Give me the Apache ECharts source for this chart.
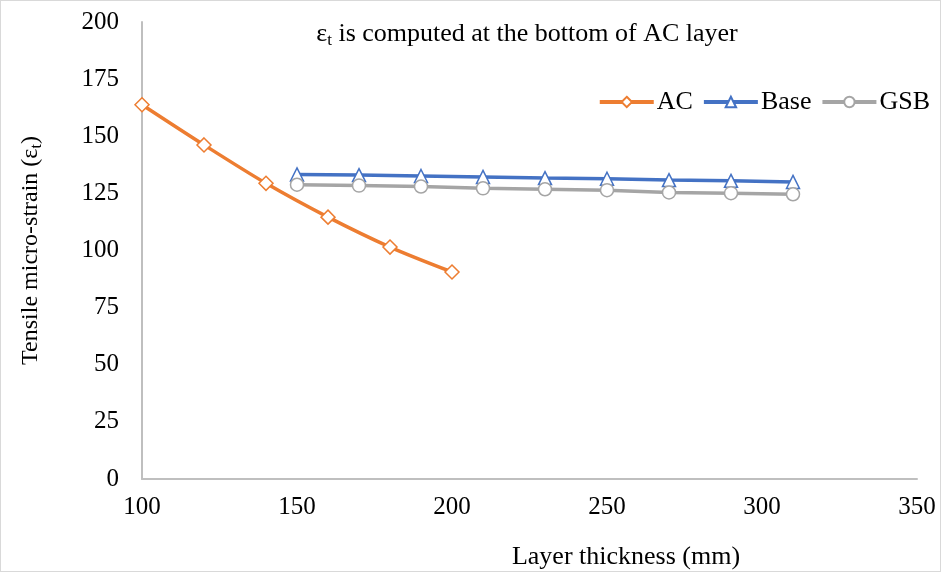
<!DOCTYPE html>
<html>
<head>
<meta charset="utf-8">
<script src="https://cdn.jsdelivr.net/npm/echarts@6/dist/echarts.min.js"></script>
<style>
  html, body { margin: 0; padding: 0; background: #fff; }
  #chart { width: 939px; height: 570px; border: 1px solid #d9d9d9; }
</style>
</head>
<body>
<div id="chart"></div>
<script>
var xTicks = [100, 150, 200, 250, 300, 350];
var yTicks = [0, 25, 50, 75, 100, 125, 150, 175, 200];

var acX = [100, 120, 140, 160, 180, 200];
var acY = [163.8, 146.2, 129.4, 114.6, 101.5, 90.6];

var baseX = [150, 170, 190, 210, 230, 250, 270, 290, 310];
var baseY = [133.3, 133.0, 132.6, 132.2, 131.7, 131.4, 130.8, 130.5, 130.0];

var gsbX = [150, 170, 190, 210, 230, 250, 270, 290, 310];
var gsbY = [128.8, 128.4, 128.0, 127.2, 126.8, 126.4, 125.4, 125.1, 124.6];

function pairs(xs, ys) {
    return xs.map(function (x, i) { return [x, ys[i]]; });
}

var font = 'Liberation Serif';
var myChart = echarts.init(document.getElementById('chart'));

myChart.setOption({
    animation: false,
    textStyle: { fontFamily: font },
    title: [{
        text: '{e|ε}{s|t}{e| is computed at the bottom of AC layer}',
        left: 521,
        top: 14,
        textAlign: 'center',
        textStyle: {
            rich: {
                e: { fontFamily: font, fontSize: 26, fontWeight: 'normal', color: '#000' },
                s: { fontFamily: font, fontSize: 17, fontWeight: 'normal', color: '#000', padding: [12, 0, 0, 0] }
            }
        }
    }, {
        text: 'Layer thickness (mm)',
        left: 620,
        top: 538,
        textAlign: 'center',
        textStyle: { fontFamily: font, fontSize: 26, fontWeight: 'normal', color: '#000' }
    }],
    legend: {
        top: 83,
        right: 5,
        itemWidth: 54,
        itemHeight: 13,
        itemGap: 9,
        lineStyle: { width: 4 },
        textStyle: { fontFamily: font, fontSize: 26, color: '#000', padding: [0, 0, 0, -2] },
        data: ['AC', 'Base', 'GSB']
    },
    grid: { left: 141, right: 23, top: 21, bottom: 92 },
    xAxis: {
        type: 'value',
        min: 100,
        max: 350,
        interval: 50,
        axisLine: { show: true, lineStyle: { color: '#bfbfbf', width: 2 } },
        axisTick: { show: false },
        splitLine: { show: false },
        axisLabel: { fontFamily: font, fontSize: 25, color: '#000', margin: 16 }
    },
    yAxis: {
        type: 'value',
        min: 0,
        max: 200,
        interval: 25,
        name: '{e|Tensile micro-strain (ε}{s|t}{e|)}',
        nameLocation: 'middle',
        nameRotate: 90,
        nameGap: 97,
        nameTextStyle: {
            rich: {
                e: { fontFamily: font, fontSize: 24, color: '#000' },
                s: { fontFamily: font, fontSize: 16, color: '#000', padding: [12, 0, 0, 0] }
            }
        },
        axisLine: { show: true, lineStyle: { color: '#bfbfbf', width: 2 } },
        axisTick: { show: false },
        splitLine: { show: false },
        axisLabel: { fontFamily: font, fontSize: 25, color: '#000', margin: 23 }
    },
    series: [{
        name: 'AC',
        type: 'line',
        smooth: 0.3,
        data: pairs(acX, acY),
        symbol: 'diamond',
        symbolSize: 14,
        lineStyle: { color: '#ed7d31', width: 3.5 },
        itemStyle: { color: '#fff', borderColor: '#ed7d31', borderWidth: 1.5 }
    }, {
        name: 'Base',
        type: 'line',
        data: pairs(baseX, baseY),
        symbol: 'triangle',
        symbolSize: 13,
        lineStyle: { color: '#4472c4', width: 3.5 },
        itemStyle: { color: '#fff', borderColor: '#4472c4', borderWidth: 1.5 }
    }, {
        name: 'GSB',
        type: 'line',
        data: pairs(gsbX, gsbY),
        symbol: 'circle',
        symbolSize: 13,
        lineStyle: { color: '#a5a5a5', width: 3.5 },
        itemStyle: { color: '#fff', borderColor: '#a5a5a5', borderWidth: 1.5 }
    }]
});
</script>
</body>
</html>
